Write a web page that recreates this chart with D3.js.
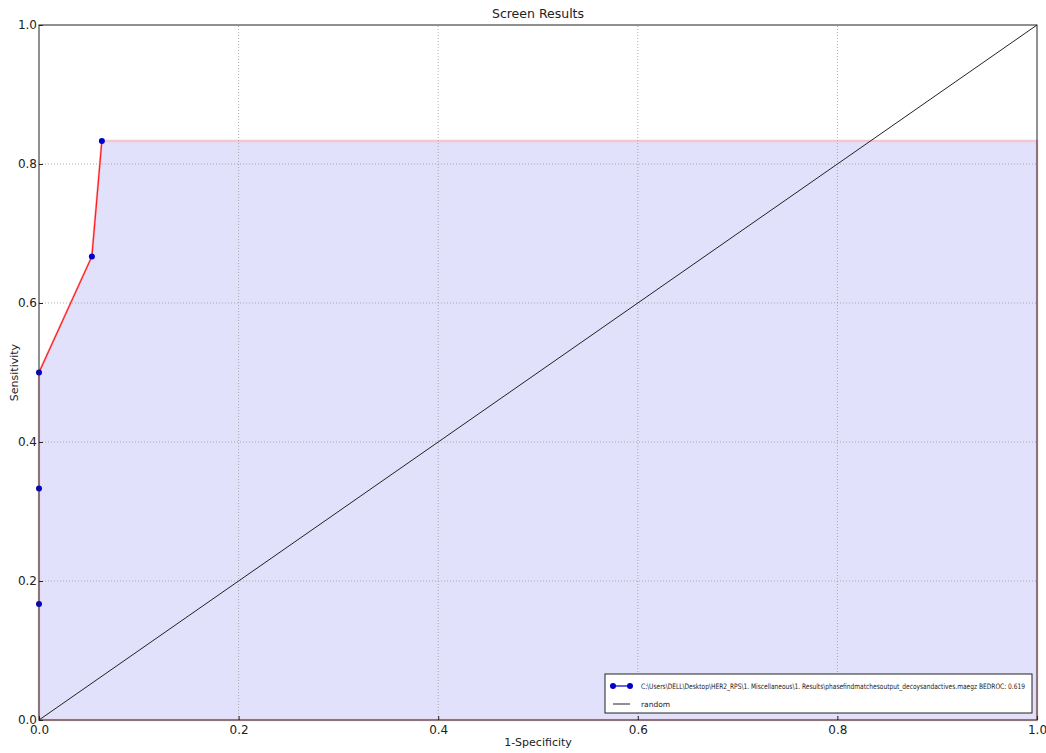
<!DOCTYPE html>
<html>
<head>
<meta charset="utf-8">
<script src="https://cdn.jsdelivr.net/npm/d3@7"></script>
<style>
  body { margin: 0; background: #fff; }
  svg { font-family: "DejaVu Sans", sans-serif; }
</style>
</head>
<body>
<div id="chart"></div>
<script>
// ROC points
const fpr = [0, 0, 0, 0, 0.053, 0.063, 1.0];
const tpr = [0, 0.167, 0.333, 0.5, 0.667, 0.833, 0.833];
const markerIdx = [1, 2, 3, 4, 5];
const randomLine = [[0, 0], [1, 1]];
const ticks = [0, 0.2, 0.4, 0.6, 0.8, 1.0];
const legendLabels = [
  "C:\\Users\\DELL\\Desktop\\HER2_RPS\\1. Miscellaneous\\1. Results\\phasefindmatchesoutput_decoysandactives.maegz BEDROC: 0.619",
  "random"
];

var width = 1046;
var height = 753;
var margin = { left: 39, right: 9, top: 25, bottom: 33 };

const svg = d3
  .select("#chart")
  .append("svg")
  .attr("width", width)
  .attr("height", height);

const x = d3.scaleLinear().domain([0, 1]).range([margin.left, width - margin.right]);
const y = d3.scaleLinear().domain([0, 1]).range([height - margin.bottom, margin.top]);

const pts = fpr.map((d, i) => [d, tpr[i]]);

// area under the curve
const area = d3.area()
  .x(d => x(d[0]))
  .y0(y(0))
  .y1(d => y(d[1]));

svg.append("path")
  .datum(pts)
  .attr("d", area)
  .attr("fill", "#e1e1fb")
  .attr("stroke", "#f4c6d0")
  .attr("stroke-width", 2.5);

// gridlines
const grid = svg.append("g");
ticks.slice(1, -1).forEach(function (t) {
  grid.append("line")
    .attr("x1", x(t)).attr("x2", x(t))
    .attr("y1", y(0)).attr("y2", y(1))
    .attr("stroke", "#999").attr("stroke-width", 0.8)
    .attr("stroke-dasharray", "1,2");
  grid.append("line")
    .attr("x1", x(0)).attr("x2", x(1))
    .attr("y1", y(t)).attr("y2", y(t))
    .attr("stroke", "#999").attr("stroke-width", 0.8)
    .attr("stroke-dasharray", "1,2");
});

// red curve over the climbing part
const line = d3.line().x(d => x(d[0])).y(d => y(d[1]));
svg.append("path")
  .datum(pts.slice(3, 6))
  .attr("d", line)
  .attr("fill", "none")
  .attr("stroke", "#ff2020")
  .attr("stroke-width", 1.3);

// random diagonal
svg.append("path")
  .datum(randomLine)
  .attr("d", line)
  .attr("fill", "none")
  .attr("stroke", "#222")
  .attr("stroke-width", 1);

// markers
svg.selectAll("circle.pt")
  .data(markerIdx.map(i => pts[i]))
  .enter()
  .append("circle")
  .attr("class", "pt")
  .attr("cx", d => x(d[0]))
  .attr("cy", d => y(d[1]))
  .attr("r", 3)
  .attr("fill", "#0000cc");

// frame
svg.append("rect")
  .attr("x", x(0)).attr("y", y(1))
  .attr("width", x(1) - x(0)).attr("height", y(0) - y(1))
  .attr("fill", "none")
  .attr("stroke", "#222")
  .attr("stroke-width", 1);

// axes
const xAxis = d3.axisBottom(x).tickValues(ticks).tickFormat(d3.format(".1f")).tickSize(-4).tickPadding(5);
const yAxis = d3.axisLeft(y).tickValues(ticks).tickFormat(d3.format(".1f")).tickSize(-4).tickPadding(4);

const gx = svg.append("g").attr("transform", `translate(0,${y(0)})`).call(xAxis);
const gy = svg.append("g").attr("transform", `translate(${x(0)},0)`).call(yAxis);
[gx, gy].forEach(function (g) {
  g.select(".domain").remove();
  g.selectAll("text").attr("font-size", 12).attr("fill", "#222")
    .attr("font-family", "DejaVu Sans");
  g.selectAll("line").attr("stroke", "#222");
});
gy.selectAll("text").attr("dx", "2");

// title and labels
svg.append("text")
  .attr("x", (x(0) + x(1)) / 2).attr("y", 18)
  .attr("text-anchor", "middle").attr("font-size", 12.5).attr("fill", "#222")
  .text("Screen Results");

svg.append("text")
  .attr("x", (x(0) + x(1)) / 2).attr("y", 746)
  .attr("text-anchor", "middle").attr("font-size", 11).attr("fill", "#222")
  .text("1-Specificity");

svg.append("text")
  .attr("transform", `translate(18,${(y(0) + y(1)) / 2}) rotate(-90)`)
  .attr("text-anchor", "middle").attr("font-size", 11).attr("fill", "#222")
  .text("Sensitivity");

// legend
const lg = svg.append("g").attr("transform", "translate(605,674)");
lg.append("rect")
  .attr("width", 427).attr("height", 39)
  .attr("fill", "#fff").attr("stroke", "#222").attr("stroke-width", 1);

lg.append("line").attr("x1", 8).attr("x2", 25).attr("y1", 12).attr("y2", 12)
  .attr("stroke", "#0000cc").attr("stroke-width", 1.2);
lg.selectAll("circle").data([8, 25]).enter().append("circle")
  .attr("cx", d => d).attr("cy", 12).attr("r", 3).attr("fill", "#0000cc");
lg.append("line").attr("x1", 8).attr("x2", 25).attr("y1", 30).attr("y2", 30)
  .attr("stroke", "#222").attr("stroke-width", 1);

lg.selectAll("text").data(legendLabels).enter().append("text")
  .attr("x", 36).attr("y", (d, i) => 15 + i * 18)
  .attr("font-size", 7.5).attr("fill", "#222")
  .attr("textLength", (d, i) => i === 0 ? 384 : null)
  .attr("lengthAdjust", "spacingAndGlyphs")
  .text(d => d);
</script>
</body>
</html>
